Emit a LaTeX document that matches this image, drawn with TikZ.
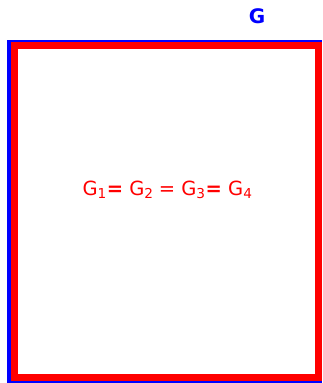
\documentclass[tikz,border=0pt]{standalone}
\usepackage{fontspec}
\setmainfont{DejaVu Sans}
\begin{document}
\begin{tikzpicture}[x=1pt,y=1pt,
  outerbox/.style={fill={rgb,255:red,0;green,0;blue,255}},
  innerbox/.style={draw={rgb,255:red,255;green,0;blue,0},fill=white,line width=7pt},
  lbl/.style={inner sep=0pt,font=\fontsize{20}{24}\selectfont}]
\useasboundingbox (0,0) rectangle (322,383);
\fill[outerbox] (7,0) rectangle (322,343);
\draw[innerbox] (14.5,5.5) rectangle (318.5,337.5);
\node[lbl,text={rgb,255:red,0;green,0;blue,255}] (g) at (257,367) {\textbf{G}};
\node[lbl,font=\fontsize{19.5}{24}\selectfont,text={rgb,255:red,255;green,0;blue,0}] (eq) at (167.5,193) {G\textsubscript{1}\textbf{=} G\textsubscript{2}\hspace{-1pt} = G\textsubscript{3}\textbf{=} G\textsubscript{4}};
\end{tikzpicture}
\end{document}
